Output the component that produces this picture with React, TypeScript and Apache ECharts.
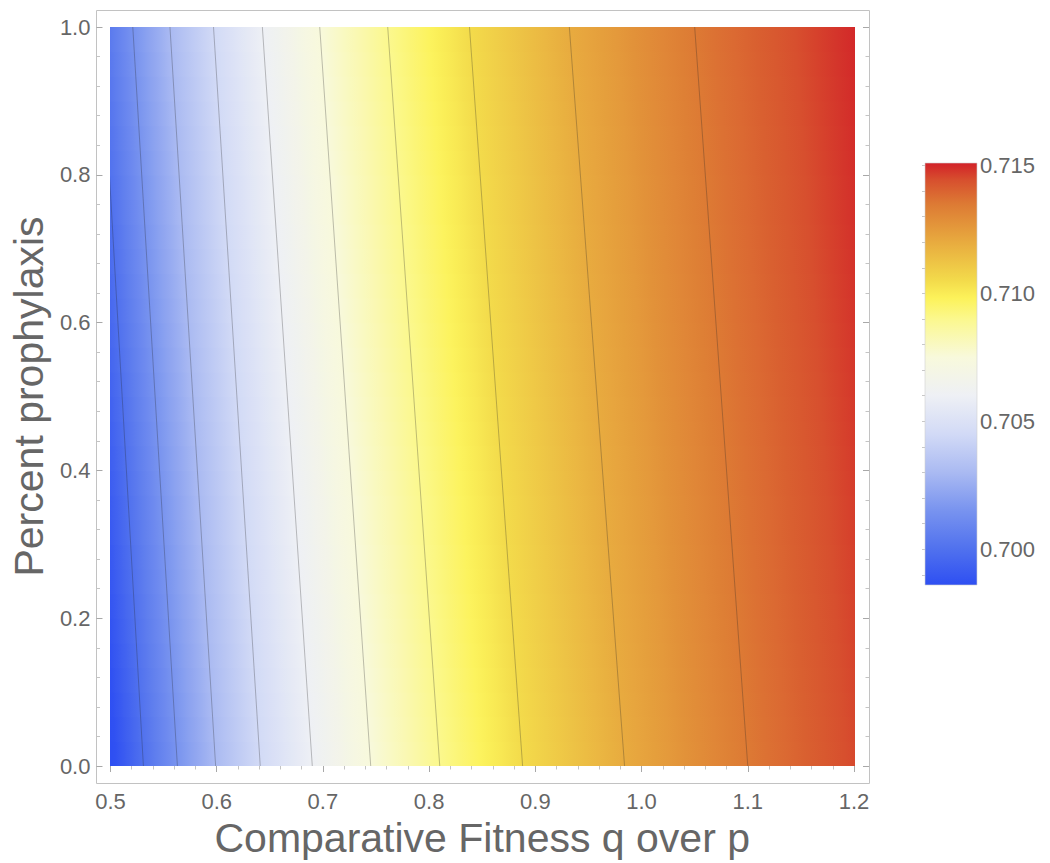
import React, { useEffect, useRef } from "react";
import * as echarts from "echarts";

// ---- data ----
const xTickValues = [0.5, 0.6, 0.7, 0.8, 0.9, 1.0, 1.1, 1.2];
const yTickValues = [0.0, 0.2, 0.4, 0.6, 0.8, 1.0];
// contour levels (value of the plotted function) and where each contour
// crosses the bottom (prophylaxis = 0) and top (prophylaxis = 1) edges
const contourLevels = [0.697, 0.6985, 0.7, 0.7015, 0.703, 0.7045, 0.706, 0.7075, 0.709, 0.7105, 0.712, 0.7135, 0.715, 0.7165];
const contourQAtBottom = [0.476, 0.502, 0.531, 0.563, 0.599, 0.641, 0.69, 0.745, 0.81, 0.888, 0.984, 1.1, 1.248, 1.445];
const contourQAtTop = [0.439, 0.463, 0.491, 0.521, 0.556, 0.597, 0.643, 0.697, 0.761, 0.838, 0.932, 1.05, 1.201, 1.405];
const drawnContourLevels = [0.7, 0.7015, 0.703, 0.7045, 0.706, 0.7075, 0.709, 0.7105, 0.712, 0.7135];
const legendTickValues = [0.7, 0.705, 0.71, 0.715];
const legendMinorTicks = [0.699, 0.7, 0.701, 0.702, 0.703, 0.704, 0.705, 0.706, 0.707, 0.708, 0.709, 0.71, 0.711, 0.712, 0.713, 0.714, 0.715];
const legendMin = 0.6986;
const legendMax = 0.7151;

// ---- colour map (style) ----
const cmap: [number, string][] = [
  [0.0, "#2e4ff2"],
  [0.085, "#5071ee"],
  [0.176, "#7893ef"],
  [0.267, "#aabaf2"],
  [0.358, "#d2daf6"],
  [0.449, "#eef0f5"],
  [0.539, "#f8f9dc"],
  [0.63, "#fbf88e"],
  [0.68, "#fcf25a"],
  [0.721, "#f3db4b"],
  [0.812, "#e8ab3f"],
  [0.903, "#dd7a34"],
  [0.96, "#d74f2e"],
  [1.0, "#d22128"],
];

function hexToRgb(h: string) {
  const n = parseInt(h.slice(1), 16);
  return [(n >> 16) & 255, (n >> 8) & 255, n & 255];
}
function colorFor(v: number) {
  let t = (v - legendMin) / (legendMax - legendMin);
  t = Math.max(0, Math.min(1, t));
  for (let i = 0; i < cmap.length - 1; i++) {
    const [t0, c0] = cmap[i];
    const [t1, c1] = cmap[i + 1];
    if (t <= t1) {
      const f = (t - t0) / (t1 - t0);
      const a = hexToRgb(c0);
      const b = hexToRgb(c1);
      const r = a.map((x, k) => Math.round(x + (b[k] - x) * f));
      return `rgb(${r[0]},${r[1]},${r[2]})`;
    }
  }
  return cmap[cmap.length - 1][1];
}

const FONT = "Liberation Sans, Arial, sans-serif";
const GRAY = "#666666";

export default function App() {
  const ref = useRef<HTMLDivElement>(null);
  useEffect(() => {
    if (!ref.current) return;
    const chart = echarts.init(ref.current, undefined, { renderer: "svg" });

    const bandData = contourLevels.slice(0, -1).map((L, i) => [
      contourQAtBottom[i],
      contourQAtTop[i],
      contourQAtBottom[i + 1],
      contourQAtTop[i + 1],
      L,
      contourLevels[i + 1],
    ]);

    const contourSeries = drawnContourLevels.map((L) => {
      const i = contourLevels.indexOf(L);
      return {
        type: "line",
        xAxisIndex: 0,
        yAxisIndex: 0,
        data: [
          [contourQAtBottom[i], 0],
          [contourQAtTop[i], 1],
        ],
        showSymbol: false,
        symbol: "none",
        silent: true,
        z: 5,
        lineStyle: { color: "rgba(40,40,40,0.32)", width: 0.9 },
      };
    });

    const axisCommonX = {
      type: "value",
      gridIndex: 0,
      min: 0.5,
      max: 1.2,
      interval: 0.1,
      axisLine: { show: false },
      splitLine: { show: false },
      axisTick: { show: true, inside: true, length: 6, lineStyle: { color: "#a8a8a8" } },
      minorTick: { show: true, splitNumber: 5, length: 3.5, lineStyle: { color: "#c4c4c4" } },
    };
    const axisCommonY = {
      type: "value",
      gridIndex: 0,
      min: 0,
      max: 1,
      interval: 0.2,
      axisLine: { show: false },
      splitLine: { show: false },
      axisTick: { show: true, inside: true, length: 6, lineStyle: { color: "#a8a8a8" } },
      minorTick: { show: true, splitNumber: 5, length: 3.5, lineStyle: { color: "#c4c4c4" } },
    };

    const legendStops = cmap.map(([t, c]) => ({ offset: t, color: c }));

    chart.setOption({
      animation: false,
      textStyle: { fontFamily: FONT },
      grid: [
        { left: 110, top: 27, width: 744, height: 741 },
        { left: 925, top: 163, width: 52, height: 422 },
      ],
      xAxis: [
        {
          ...axisCommonX,
          position: "bottom",
          offset: 15,
          axisLabel: {
            show: true,
            margin: 9,
            color: GRAY,
            fontSize: 22,
            fontFamily: FONT,
            formatter: (v: number) => v.toFixed(1),
          },
          name: "Comparative Fitness q over p",
          nameLocation: "middle",
          nameGap: 36,
          nameTextStyle: { color: GRAY, fontSize: 41, fontFamily: FONT },
        },
        { ...axisCommonX, position: "top", offset: 17, axisLabel: { show: false } },
        { type: "value", gridIndex: 1, min: 0, max: 1, show: false },
      ],
      yAxis: [
        {
          ...axisCommonY,
          position: "left",
          offset: 14,
          axisLabel: {
            show: true,
            margin: 6,
            color: GRAY,
            fontSize: 22,
            fontFamily: FONT,
            formatter: (v: number) => v.toFixed(1),
          },
          name: "Percent prophylaxis",
          nameLocation: "middle",
          nameGap: 46,
          nameTextStyle: { color: GRAY, fontSize: 41, fontFamily: FONT },
        },
        { ...axisCommonY, position: "right", offset: 15, axisLabel: { show: false } },
        {
          type: "value",
          gridIndex: 1,
          position: "right",
          min: legendMin,
          max: legendMax,
          axisLine: { show: false },
          splitLine: { show: false },
          axisTick: {
            show: true,
            inside: true,
            length: 3,
            customValues: legendMinorTicks,
            lineStyle: { color: "#c8c8c8" },
          },
          axisLabel: {
            show: true,
            margin: 3,
            color: GRAY,
            fontSize: 22,
            fontFamily: FONT,
            customValues: legendTickValues,
            formatter: (v: number) => v.toFixed(3),
          },
        },
      ],
      graphic: [
        {
          type: "rect",
          silent: true,
          z: -10,
          shape: { x: 96.5, y: 10.5, width: 773, height: 773 },
          style: { fill: "none", stroke: "#c2c2c2", lineWidth: 1 },
        },
      ],
      series: [
        {
          type: "custom",
          xAxisIndex: 0,
          yAxisIndex: 0,
          clip: true,
          silent: true,
          z: 1,
          data: bandData,
          renderItem: (params: any, api: any) => {
            const qb0 = api.value(0);
            const qt0 = api.value(1);
            const qb1 = api.value(2);
            const qt1 = api.value(3);
            const v0 = api.value(4);
            const v1 = api.value(5);
            const stops: any[] = [];
            const N = 8;
            for (let i = 0; i <= N; i++) {
              const f = i / N;
              stops.push({ offset: f, color: colorFor(v0 + (v1 - v0) * f) });
            }
            const xl = (y: number) => qb0 + (qt0 - qb0) * y;
            const xr = (y: number) => qb1 + (qt1 - qb1) * y;
            const S = 30;
            const children: any[] = [];
            for (let s = 0; s < S; s++) {
              const ya = s / S;
              const yb = (s + 1) / S;
              const ym = (ya + yb) / 2;
              const pA = api.coord([xl(ya), ya]);
              const pB = api.coord([xr(ya), ya]);
              const pC = api.coord([xr(yb), yb]);
              const pD = api.coord([xl(yb), yb]);
              const pl = api.coord([xl(ym), ym]);
              const pr = api.coord([xr(ym), ym]);
              children.push({
                type: "polygon",
                shape: {
                  points: [
                    [pA[0], pA[1] + 0.6],
                    [pB[0] + 1.2, pB[1] + 0.6],
                    [pC[0] + 1.2, pC[1] - 0.6],
                    [pD[0], pD[1] - 0.6],
                  ],
                },
                style: {
                  fill: new echarts.graphic.LinearGradient(pl[0], 0, pr[0], 0, stops, true),
                },
              });
            }
            return { type: "group", children };
          },
        },
        ...contourSeries,
        {
          type: "custom",
          xAxisIndex: 2,
          yAxisIndex: 2,
          silent: true,
          data: [[0, legendMin, 1, legendMax]],
          renderItem: (params: any, api: any) => {
            const p0 = api.coord([api.value(0), api.value(1)]);
            const p1 = api.coord([api.value(2), api.value(3)]);
            return {
              type: "rect",
              shape: { x: p0[0], y: p1[1], width: p1[0] - p0[0], height: p0[1] - p1[1] },
              style: {
                fill: new echarts.graphic.LinearGradient(0, 1, 0, 0, legendStops),
                stroke: "#d0d0d0",
                lineWidth: 0.6,
              },
            };
          },
        },
      ],
    });
    return () => chart.dispose();
  }, []);
  return (
    <div
      ref={ref}
      style={{ position: "absolute", left: 0, top: 0, width: 1050, height: 863, background: "#fff" }}
    />
  );
}
